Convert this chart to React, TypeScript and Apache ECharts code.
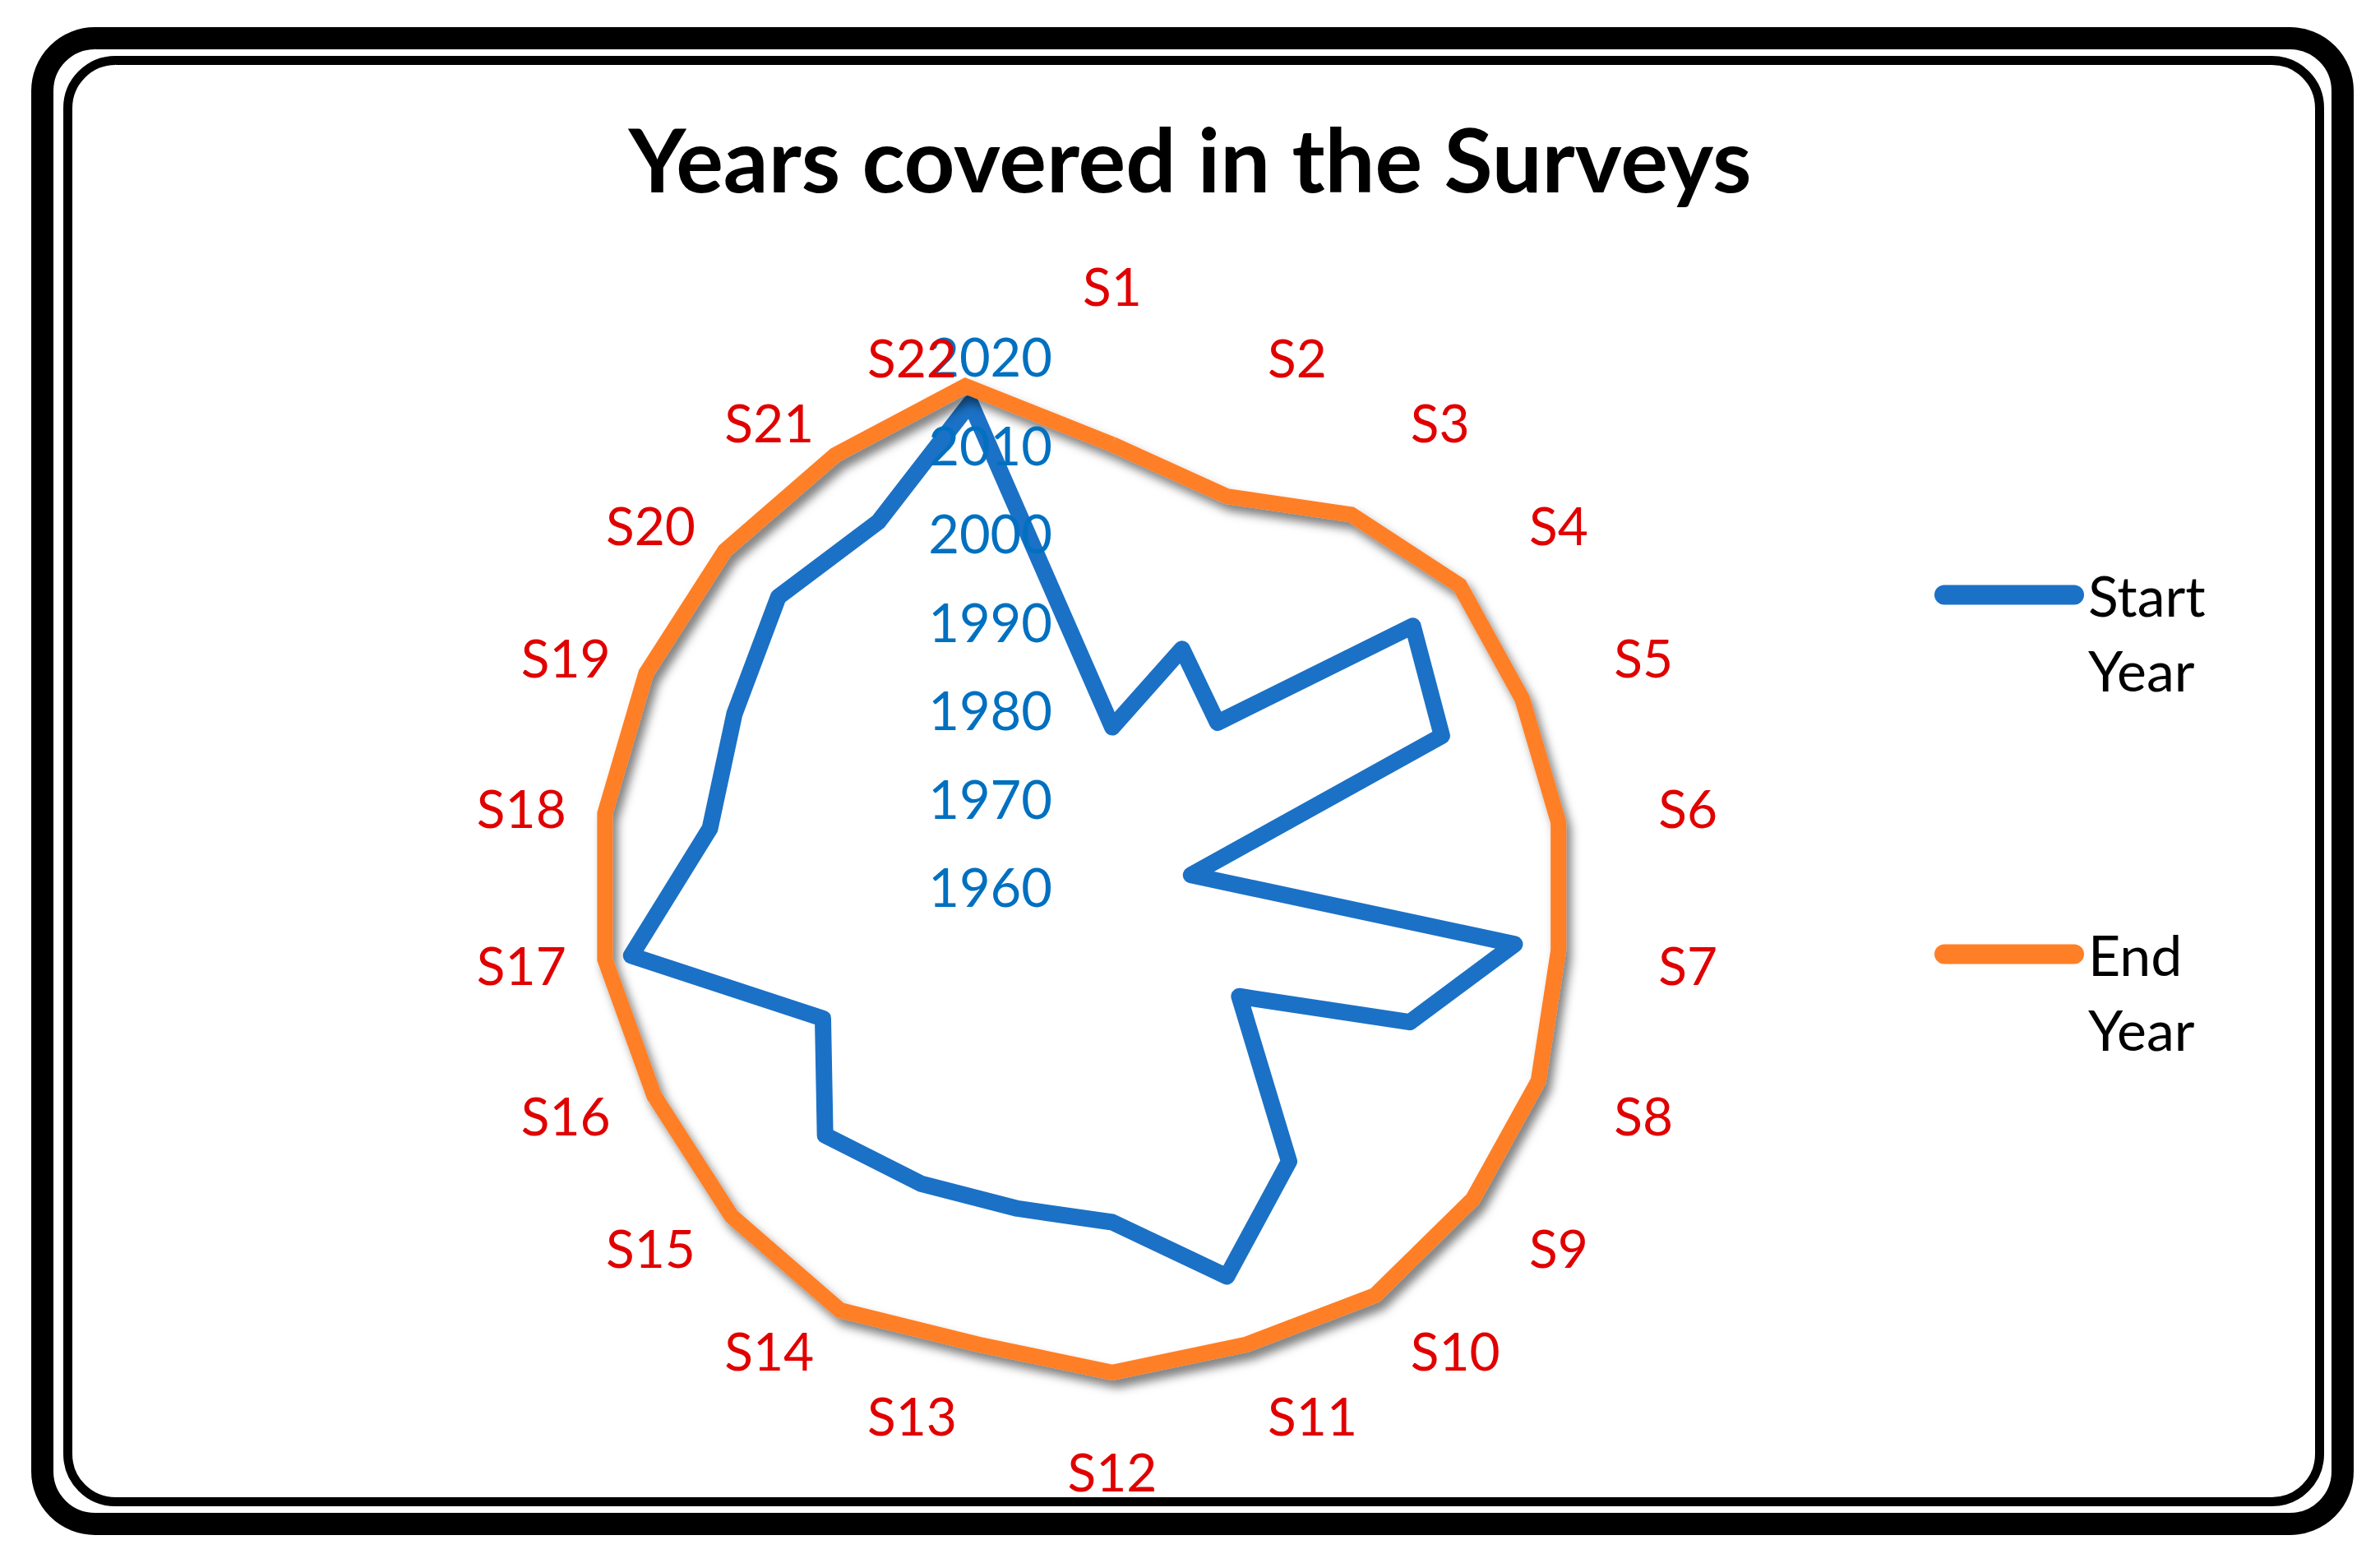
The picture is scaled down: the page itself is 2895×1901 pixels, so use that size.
import React, { useEffect, useRef } from "react";
import * as echarts from "echarts";

const categories = [
  "S1", "S2", "S3", "S4", "S5", "S6", "S7", "S8", "S9", "S10", "S11",
  "S12", "S13", "S14", "S15", "S16", "S17", "S18", "S19", "S20", "S21", "S22",
];

const startYear = [
  1978, 1988, 1982, 2005, 2001, 1969, 2006, 1997, 1979, 1997, 2006,
  1998, 1998, 2000, 2003, 1996, 2015, 2006, 2007, 2010, 2009, 2017,
];

const endYear = [
  2010, 2006, 2010, 2012, 2011, 2011, 2011, 2013, 2014, 2015, 2014,
  2015, 2014, 2017, 2017, 2017, 2018, 2018, 2018, 2018, 2018, 2019,
];

const yearTicks = [1960, 1970, 1980, 1990, 2000, 2010, 2020];

const seriesNames = ["Start Year", "End Year"];
const titleText = "Years covered in the Surveys";

const BLUE = "#1B71C6";
const ORANGE = "#FF7F27";
const RED = "#E00000";
const AXIS_BLUE = "#0070C0";
const FONT = "Lato, 'Open Sans', sans-serif";

// each point: [year, category index]; the first point is repeated at the
// end (index = count, i.e. a full turn) so that the polygon closes
function closed(values: number[]) {
  const pts = values.map((v, i) => [v, i]);
  pts.push([values[0], values.length]);
  return pts;
}

// radar places indicators counter-clockwise; reorder so names run clockwise
const radarOrder = [categories[0], ...categories.slice(1).reverse()];

const legendIcon =
  "path://M12,0L170,0A12,12,0,0,1,170,24L12,24A12,12,0,0,1,12,0Z";

export default function App() {
  const ref = useRef<HTMLDivElement>(null);

  useEffect(() => {
    if (!ref.current) return;
    const chart = echarts.init(ref.current, undefined, { renderer: "svg" });
    const legendBase = {
      orient: "vertical",
      left: 2353,
      padding: 0,
      itemWidth: 182,
      itemHeight: 24,
      itemGap: 0,
      icon: legendIcon,
      selectedMode: false,
      itemStyle: { borderWidth: 0 },
      // an empty first line keeps the first word level with the line sample
      formatter: (n: string) => "\n" + n.replace(" ", "\n"),
      textStyle: {
        fontFamily: FONT,
        fontSize: 68,
        color: "#000",
        lineHeight: 91,
      },
    };
    const nameCount = categories.length;
    chart.setOption({
      animation: false,
      backgroundColor: "#fff",
      title: {
        text: titleText,
        left: "center",
        top: 133,
        textStyle: {
          fontFamily: FONT,
          fontWeight: "bold",
          fontSize: 108,
          color: "#000",
        },
      },
      legend: [
        { ...legendBase, data: [seriesNames[0]], top: 587 },
        { ...legendBase, data: [seriesNames[1]], top: 1024 },
      ],
      polar: {
        center: [1353, 1078],
        radius: 645,
      },
      radar: {
        center: [1353, 1078],
        radius: 645,
        startAngle: 90,
        shape: "polygon",
        z: 12,
        indicator: radarOrder.map((name) => ({
          name,
          min: yearTicks[0],
          max: yearTicks[yearTicks.length - 1],
        })),
        axisName: {
          color: RED,
          fontFamily: FONT,
          fontSize: 64,
          formatter: (name: string) => {
            const idx = categories.indexOf(name);
            if (idx === 0) return `{top|${name}}`;
            if (idx === nameCount / 2) return `{bottom|${name}}`;
            return name;
          },
          rich: {
            top: {
              color: RED,
              fontFamily: FONT,
              fontSize: 64,
              padding: [0, 0, 28, 0],
            },
            bottom: {
              color: RED,
              fontFamily: FONT,
              fontSize: 64,
              padding: [8, 0, 0, 0],
            },
          },
        },
        nameGap: 26,
        axisLine: { show: false },
        axisTick: { show: false },
        axisLabel: { show: false },
        splitLine: { show: false },
        splitArea: { show: false },
      },
      angleAxis: {
        type: "value",
        min: 0,
        max: categories.length,
        startAngle: 90,
        clockwise: true,
        axisLine: { show: false },
        axisTick: { show: false },
        splitLine: { show: false },
        axisLabel: { show: false },
      },
      radiusAxis: {
        type: "value",
        min: yearTicks[0],
        max: yearTicks[yearTicks.length - 1],
        interval: yearTicks[1] - yearTicks[0],
        z: 10,
        axisLine: { show: false },
        axisTick: { show: false },
        splitLine: { show: false },
        axisLabel: {
          show: true,
          color: AXIS_BLUE,
          fontFamily: FONT,
          fontSize: 65,
          margin: 73,
          formatter: (v: number) => String(v),
        },
      },
      graphic: [
        {
          type: "rect",
          z: -1,
          silent: true,
          shape: { x: 51.5, y: 46.5, width: 2798, height: 1807, r: 64 },
          style: { fill: "none", stroke: "#000", lineWidth: 27 },
        },
        {
          type: "rect",
          z: -1,
          silent: true,
          shape: { x: 82.5, y: 73.5, width: 2739, height: 1753, r: 58 },
          style: { fill: "none", stroke: "#000", lineWidth: 11 },
        },
      ],
      series: [
        {
          name: seriesNames[0],
          type: "line",
          coordinateSystem: "polar",
          data: closed(startYear),
          symbol: "none",
          clip: false,
          color: BLUE,
          z: 3,
          lineStyle: { color: BLUE, width: 20, join: "round", cap: "round" },
        },
        {
          name: seriesNames[1],
          type: "line",
          coordinateSystem: "polar",
          data: closed(endYear),
          symbol: "none",
          clip: false,
          color: ORANGE,
          z: 4,
          lineStyle: {
            color: ORANGE,
            width: 19,
            join: "miter",
            shadowColor: "rgba(0,0,0,0.5)",
            shadowBlur: 12,
            shadowOffsetX: 6,
            shadowOffsetY: 9,
          },
        },
      ],
    });
    return () => chart.dispose();
  }, []);

  return (
    <div
      ref={ref}
      style={{ position: "fixed", left: 0, top: 0, width: 2895, height: 1901 }}
    />
  );
}
